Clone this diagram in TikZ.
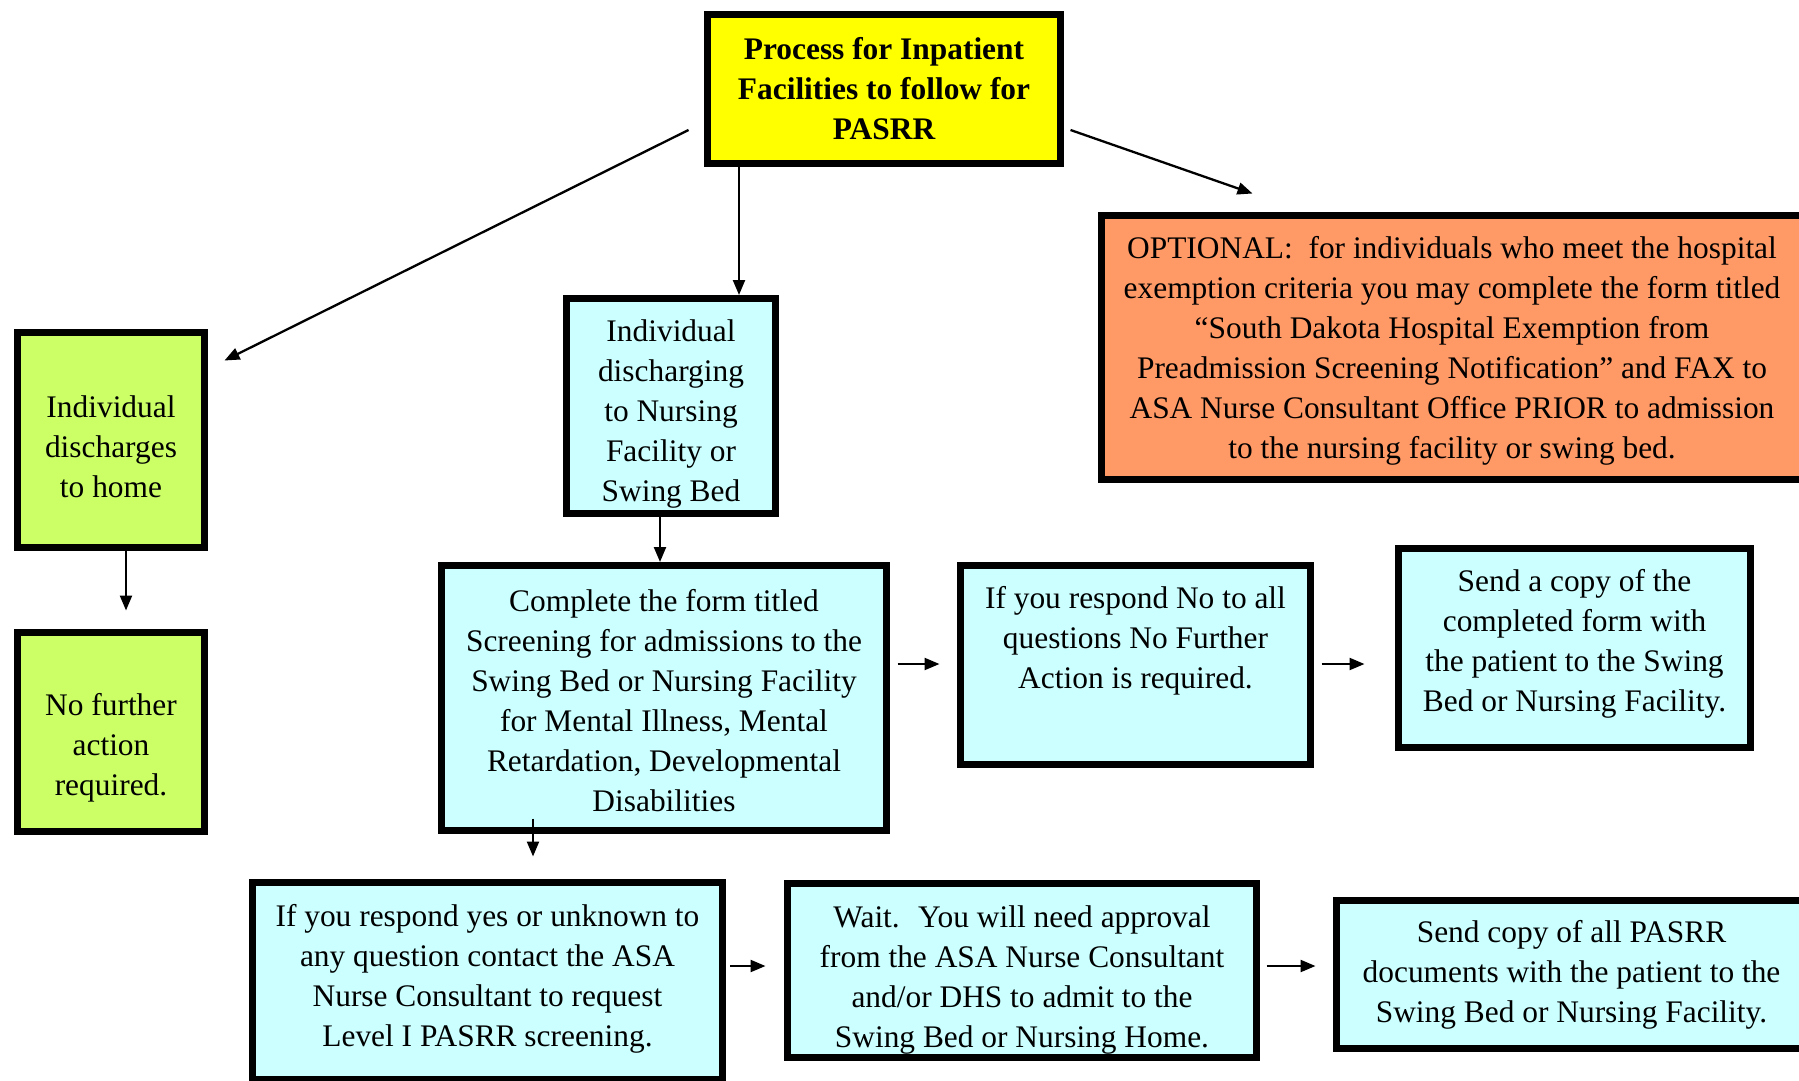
\documentclass[tikz,border=0pt]{standalone}
\usepackage{fontspec}
\setmainfont{Liberation Serif}
\usetikzlibrary{arrows.meta,calc}
\definecolor{ttlyellow}{HTML}{FFFF00}
\definecolor{optorange}{HTML}{FF9966}
\definecolor{homegreen}{HTML}{CCFF66}
\definecolor{stepcyan}{HTML}{CCFFFF}
\begin{document}
\begin{tikzpicture}[x=1pt,y=1pt,
  box/.style={draw=black, line width=7pt, inner sep=0pt},
  txt/.style={align=center, font=\fontsize{31.4}{40}\selectfont, inner sep=0pt},
  ttltxt/.style={align=center, font=\bfseries\fontsize{31.4}{40}\selectfont, inner sep=0pt},
  arr/.style={line width=2.3pt, -{Triangle[length=15pt,width=12pt]}}]
\useasboundingbox (0,0) rectangle (1799,-1081);

\node[box, fill=ttlyellow, minimum width=353pt, minimum height=149pt,
  label={[ttltxt]center:{Process for Inpatient\\Facilities to follow for\\PASRR}}] (title) at (884,-89) {};

\node[box, fill=optorange, minimum width=705pt, minimum height=264pt,
  label={[txt,yshift=-3pt,xshift=-2pt]center:{OPTIONAL:~ for individuals who meet the hospital\\exemption criteria you may complete the form titled\\“South Dakota Hospital Exemption from\\Preadmission Screening Notification” and FAX to\\ASA Nurse Consultant Office PRIOR to admission\\to the nursing facility or swing bed.}}] (opt) at (1454,-347.5) {};

\node[box, fill=homegreen, minimum width=187pt, minimum height=215pt,
  label={[txt,yshift=-7pt]center:{Individual\\discharges\\to home}}] (home) at (111,-440) {};

\node[box, fill=homegreen, minimum width=187pt, minimum height=199pt,
  label={[txt,yshift=-16pt]center:{No further\\action\\required.}}] (nofurther) at (111,-732) {};

\node[box, fill=stepcyan, minimum width=209pt, minimum height=215pt,
  label={[txt,yshift=-8pt]center:{Individual\\discharging\\to Nursing\\Facility or\\Swing Bed}}] (disch) at (671,-406) {};

\node[box, fill=stepcyan, minimum width=445pt, minimum height=265pt,
  label={[txt,yshift=-3pt]center:{Complete the form titled\\Screening for admissions to the\\Swing Bed or Nursing Facility\\for Mental Illness, Mental\\Retardation, Developmental\\Disabilities}}] (form) at (664,-698) {};

\node[box, fill=stepcyan, minimum width=350pt, minimum height=199pt,
  label={[txt,yshift=24pt]center:{If you respond No to all\\questions No Further\\Action is required.}}] (no) at (1135.5,-665) {};

\node[box, fill=stepcyan, minimum width=352pt, minimum height=199pt,
  label={[txt,yshift=4pt]center:{Send a copy of the\\completed form with\\the patient to the Swing\\Bed or Nursing Facility.}}] (send1) at (1574.5,-648) {};

\node[box, fill=stepcyan, minimum width=470pt, minimum height=197pt,
  label={[txt,yshift=2pt]center:{If you respond yes or unknown to\\any question contact the ASA\\Nurse Consultant to request\\Level I PASRR screening.}}] (yes) at (487.5,-981) {};

\node[box, fill=stepcyan, minimum width=469pt, minimum height=174pt,
  label={[txt,yshift=-9pt]center:{Wait.~ You will need approval\\from the ASA Nurse Consultant\\and/or DHS to admit to the\\Swing Bed or Nursing Home.}}] (wait) at (1022,-970.5) {};

\node[box, fill=stepcyan, minimum width=470pt, minimum height=148pt,
  label={[txt]center:{Send copy of all PASRR\\documents with the patient to the\\Swing Bed or Nursing Facility.}}] (send2) at (1571.5,-974.5) {};

% connectors
\coordinate (v1) at (739,0);
\draw[arr] (title.south -| v1) -- (disch.north -| v1);

\coordinate (d1s) at ($(title.west)+(-15.5,-41)$);
\coordinate (d1e) at ($(home.north east)+(16.5,-31.5)$);
\draw[arr] (d1s) -- (d1e);

\coordinate (d2s) at ($(title.east)+(6.5,-41)$);
\coordinate (d2e) at ($(opt.north west)+(154.5,18.5)$);
\draw[arr] (d2s) -- (d2e);

\coordinate (v2) at (126,0);
\draw[arr] (home.south -| v2) -- ($(nofurther.north -| v2)+(0,18.5)$);

\coordinate (v3) at (660,0);
\draw[arr] (disch.south -| v3) -- (form.north -| v3);

\coordinate (v4) at (533,0);
\draw[arr] ($(form.south -| v4)+(0,15.5)$) -- ($(yes.north -| v4)+(0,22.5)$);

\coordinate (h1) at (0,-664);
\draw[arr] ($(form.east |- h1)+(7.5,0)$) -- ($(no.west |- h1)+(-17.5,0)$);
\draw[arr] ($(no.east |- h1)+(7.5,0)$) -- ($(send1.west |- h1)+(-30.5,0)$);

\coordinate (h2) at (0,-966);
\draw[arr] ($(yes.east |- h2)+(4,0)$) -- ($(wait.west |- h2)+(-18.5,0)$);
\draw[arr] ($(wait.east |- h2)+(6.5,0)$) -- ($(send2.west |- h2)+(-17.5,0)$);
\end{tikzpicture}
\end{document}
